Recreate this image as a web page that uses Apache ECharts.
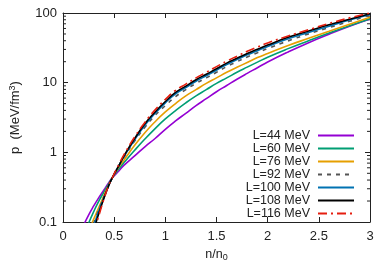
<!DOCTYPE html>
<html><head><meta charset="utf-8">
<script src="https://cdn.jsdelivr.net/npm/echarts@6/dist/echarts.min.js"></script>
<style>html,body{margin:0;padding:0;background:#fff}#c{width:392px;height:275px}</style>
</head><body><div id="c"></div>
<script>
const density = [0.2,0.25,0.3,0.35,0.4,0.44,0.48,0.55,0.6,0.7,0.8,0.9,1.0,1.1,1.2,1.3,1.4,1.5,1.6,1.7,1.8,1.9,2.0,2.2,2.4,2.6,2.8,3.0];
const seriesNames = ['L=44 MeV','L=60 MeV','L=76 MeV','L=92 MeV','L=100 MeV','L=108 MeV','L=116 MeV'];
const pL44  = [0.089,0.126,0.17,0.224,0.288,0.355,0.427,0.55,0.66,0.89,1.2,1.58,2.14,2.82,3.63,4.68,5.89,7.41,9.12,11.2,13.6,16.4,19.8,27.6,37.5,49.6,64.5,82];
const pL60  = [null,0.096,0.141,0.2,0.269,0.339,0.427,0.589,0.724,1.07,1.55,2.19,3.02,3.98,5.13,6.46,7.94,9.77,11.7,14.1,16.7,19.7,23.2,30.8,40,51.5,65.5,83];
const pL76  = [null,0.074,0.11,0.162,0.24,0.324,0.427,0.63,0.79,1.26,1.91,2.75,3.8,5.01,6.46,7.94,9.77,11.7,14.1,16.6,19.5,22.9,26.3,34.2,43.3,54.5,68.8,87];
const pL92  = [null,null,0.095,0.151,0.229,0.316,0.427,0.66,0.87,1.45,2.29,3.39,4.68,6.31,7.94,9.77,11.7,14.1,17,20,23.4,26.9,30.9,39.8,50.1,61.7,75.9,93.3];
const pL100 = [null,null,0.087,0.145,0.224,0.316,0.427,0.66,0.89,1.51,2.45,3.63,5.13,6.92,8.51,10.5,12.6,15.1,18.2,21.4,25.1,28.8,33.1,42.7,52.5,64.6,79.4,95.5];
const pL108 = [null,null,0.076,0.132,0.219,0.316,0.427,0.66,0.91,1.58,2.57,3.8,5.37,7.24,8.91,11,13.2,15.8,19.1,22.4,26.3,30.2,34.7,44.7,55,67.6,81.3,97.7];
const pL116 = [null,null,0.071,0.123,0.214,0.316,0.427,0.69,0.95,1.66,2.69,4.07,5.75,7.76,9.55,11.7,14.1,17,20.4,24,28.2,32.4,37.2,46.8,57.5,70.8,85.1,100];
const xTickLabels = ['0','0.5','1','1.5','2','2.5','3'];
const yTickLabels = ['0.1','1','10','100'];
const yMinorTicks = [0.2,0.3,0.4,0.5,0.6,0.7,0.8,0.9,2,3,4,5,6,7,8,9,20,30,40,50,60,70,80,90];

const allP = [pL44,pL60,pL76,pL92,pL100,pL108,pL116];
const colors = ['#9400d3','#009e73','#e69f00','#555555','#0072b2','#000000','#e51e10'];
const types = ['solid','solid','solid',[4,5],'solid','solid',[9,4,2,4]];

const series = allP.map((arr,i)=>({
  name: seriesNames[i], type:'line', smooth:true, showSymbol:false, symbol:'none',
  xAxisIndex:0, yAxisIndex:0,
  data: density.map((n,j)=>[n,arr[j]]),
  lineStyle:{color:colors[i], width:1.6, type:types[i]},
  itemStyle:{color:colors[i]}, emphasis:{disabled:true}
}));
series.push({
  type:'custom', silent:true, xAxisIndex:0, yAxisIndex:0, clip:false,
  data: yMinorTicks.map(v=>[0,v]),
  renderItem:function(params, api){
    const v = api.value(1);
    const l = api.coord([0, v]);
    const r = api.coord([3, v]);
    return {type:'group', children:[
      {type:'line', shape:{x1:l[0],y1:l[1],x2:l[0]+3,y2:l[1]}, style:{stroke:'#222',lineWidth:1}},
      {type:'line', shape:{x1:r[0],y1:r[1],x2:r[0]-3,y2:r[1]}, style:{stroke:'#222',lineWidth:1}}
    ]};
  }
});

const font = 'Liberation Sans, Arial, sans-serif';
const chart = echarts.init(document.getElementById('c'), null, {renderer:'canvas'});
chart.setOption({
  animation:false,
  backgroundColor:'#fff',
  grid:{left:61, right:22, top:13, bottom:53, show:false},
  legend:{
    data: seriesNames, orient:'vertical', align:'right', right:32, top:124,
    itemWidth:36, itemHeight:8, itemGap:0,
    itemStyle:{opacity:0},
    textStyle:{fontFamily:font, fontSize:12.5, color:'#222', lineHeight:12.5, padding:[0,3,0,0]},
    selectedMode:false
  },
  xAxis:[{
    type:'value', min:0, max:3, interval:0.5, position:'bottom',
    name:'{a|n/n}{b|0}', nameLocation:'middle', nameGap:21,
    nameTextStyle:{rich:{a:{fontFamily:font,fontSize:12.5,color:'#222'},b:{fontFamily:font,fontSize:9,color:'#222',verticalAlign:'bottom',padding:[6,0,0,0]}}},
    axisLine:{show:true,onZero:false,lineStyle:{color:'#222',width:1}},
    axisTick:{show:true,inside:true,length:5,lineStyle:{color:'#222'}},
    axisLabel:{margin:8,fontFamily:font,fontSize:13,color:'#222',formatter:v=>xTickLabels[Math.round(v*2)]},
    splitLine:{show:false}
  },{
    type:'value', min:0, max:3, interval:0.5, position:'top',
    axisLine:{show:true,onZero:false,lineStyle:{color:'#222',width:1}},
    axisTick:{show:true,inside:true,length:5,lineStyle:{color:'#222'}},
    axisLabel:{show:false}, splitLine:{show:false}
  }],
  yAxis:[{
    type:'log', logBase:10, min:0.1, max:100, position:'left',
    name:'{a|p  (MeV/fm}{b|3}{a|)}', nameLocation:'middle', nameGap:40, nameRotate:90,
    nameTextStyle:{rich:{a:{fontFamily:font,fontSize:13,color:'#222'},b:{fontFamily:font,fontSize:9,color:'#222',verticalAlign:'top',padding:[0,0,6,0]}}},
    axisLine:{show:true,onZero:false,lineStyle:{color:'#222',width:1}},
    axisTick:{show:true,inside:true,length:5,lineStyle:{color:'#222'}},
    axisLabel:{margin:6,fontFamily:font,fontSize:13,color:'#222',formatter:v=>{const k=Math.round(Math.log10(v))+1;return yTickLabels[k];}},
    splitLine:{show:false}
  },{
    type:'log', logBase:10, min:0.1, max:100, position:'right',
    axisLine:{show:true,onZero:false,lineStyle:{color:'#222',width:1}},
    axisTick:{show:true,inside:true,length:5,lineStyle:{color:'#222'}},
    axisLabel:{show:false}, splitLine:{show:false}
  }],
  series: series
});
</script></body></html>
